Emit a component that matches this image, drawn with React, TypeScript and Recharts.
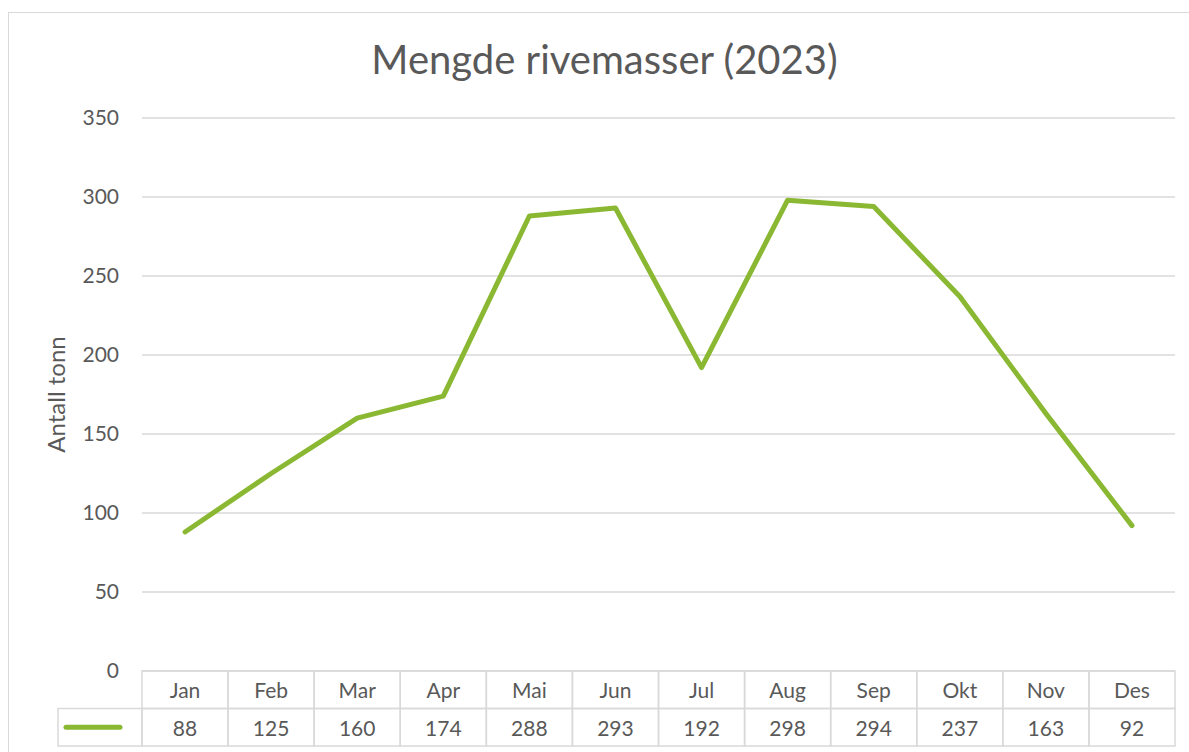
import React from 'react';
import { LineChart, Line, XAxis, YAxis, CartesianGrid } from 'recharts';

const months = ['Jan', 'Feb', 'Mar', 'Apr', 'Mai', 'Jun', 'Jul', 'Aug', 'Sep', 'Okt', 'Nov', 'Des'];
const tonnes = [88, 125, 160, 174, 288, 293, 192, 298, 294, 237, 163, 92];
const yTicks = [0, 50, 100, 150, 200, 250, 300, 350];

const data = months.map((m, i) => ({ month: m, tonn: tonnes[i] }));

const W = 1189;
const H = 752;
const MARGIN = { top: 118, right: 14, bottom: 6, left: 0 };
const Y_AXIS_W = 142;
const X_AXIS_H = 75;
const PLOT_W = W - MARGIN.left - MARGIN.right - Y_AXIS_W;
const COL_W = PLOT_W / months.length;
const ROW_H = 37.5;
const KEY_W = 84;

const GREEN = '#8ab833';
const GRID = '#d9d9d9';
const TEXT = '#595959';
const FONT = 'Lato, "Noto Sans", sans-serif';
const TICK_SIZE = 21;

// draws one column of the data table under the plot (header + value cell)
const TableTick = (props: any) => {
  const { x, y, payload, index } = props;
  const left = x - COL_W / 2;
  return (
    <g>
      <rect x={left} y={y} width={COL_W} height={ROW_H} fill="none" stroke={GRID} strokeWidth={1.5} />
      <rect x={left} y={y + ROW_H} width={COL_W} height={ROW_H} fill="none" stroke={GRID} strokeWidth={1.5} />
      <text x={x} y={y + ROW_H / 2} textAnchor="middle" dominantBaseline="central" fill={TEXT} fontSize={TICK_SIZE} fontFamily={FONT}>
        {payload.value}
      </text>
      <text x={x} y={y + ROW_H * 1.5} textAnchor="middle" dominantBaseline="central" fill={TEXT} fontSize={TICK_SIZE} fontFamily={FONT}>
        {tonnes[index]}
      </text>
      {index === 0 && (
        <g>
          <rect x={left - KEY_W} y={y + ROW_H} width={KEY_W} height={ROW_H} fill="none" stroke={GRID} strokeWidth={1.5} />
          <line
            x1={left - KEY_W + 8}
            x2={left - 22}
            y1={y + ROW_H * 1.5}
            y2={y + ROW_H * 1.5}
            stroke={GREEN}
            strokeWidth={5}
            strokeLinecap="round"
          />
        </g>
      )}
    </g>
  );
};

export default function App() {
  return (
    <div style={{ position: 'absolute', left: 0, top: 0, width: W, height: H, overflow: 'hidden', background: '#fff' }}>
      <div
        style={{
          position: 'absolute',
          left: 8,
          top: 12,
          width: W,
          height: H,
          borderTop: `1.5px solid ${GRID}`,
          borderLeft: `1.5px solid ${GRID}`,
        }}
      />
      <div
        style={{
          position: 'absolute',
          left: 10,
          top: 39,
          width: W,
          textAlign: 'center',
          fontFamily: FONT,
          fontSize: 40,
          lineHeight: 1,
          color: TEXT,
        }}
      >
        Mengde rivemasser (2023)
      </div>
      <div style={{ position: 'absolute', left: 0, top: 0 }}>
        <LineChart width={W} height={H} data={data} margin={MARGIN}>
          <CartesianGrid vertical={false} stroke={GRID} strokeWidth={1.5} />
          <XAxis
            dataKey="month"
            height={X_AXIS_H}
            axisLine={false}
            tickLine={false}
            tickSize={0}
            tickMargin={0}
            interval={0}
            padding={{ left: COL_W / 2, right: COL_W / 2 }}
            tick={(p: any) => <TableTick {...p} />}
          />
          <YAxis
            width={Y_AXIS_W}
            domain={[0, 350]}
            ticks={yTicks}
            axisLine={false}
            tickLine={false}
            tickSize={0}
            tickMargin={23}
            tick={{ fill: TEXT, fontSize: TICK_SIZE, fontFamily: FONT }}
            label={{
              value: 'Antall tonn',
              angle: -90,
              position: 'insideLeft',
              offset: 56,
              style: { textAnchor: 'middle', fill: TEXT, fontSize: 24, fontFamily: FONT },
            }}
          />
          <Line
            type="linear"
            dataKey="tonn"
            stroke={GREEN}
            strokeWidth={5}
            strokeLinecap="round"
            strokeLinejoin="round"
            dot={false}
            isAnimationActive={false}
          />
        </LineChart>
      </div>
    </div>
  );
}
